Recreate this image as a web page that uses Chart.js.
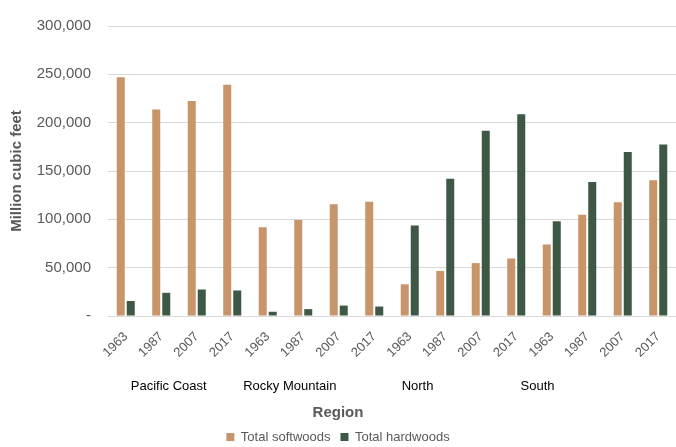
<!DOCTYPE html>
<html lang="en">
<head>
  <meta charset="UTF-8" />
  <title>Growing stock volume by region</title>
  <style>
    body { margin: 0; padding: 0; background: #fff; }
    .chart-container { width: 676px; height: 447px; }
  </style>
</head>
<body>
  <div class="chart-container">
    <canvas id="volumeChart"></canvas>
  </div>

  <script src="https://cdn.jsdelivr.net/npm/chart.js"></script>
  <script>
    // --- Data ---
    const years = ['1963', '1987', '2007', '2017'];
    const regions = ['Pacific Coast', 'Rocky Mountain', 'North', 'South'];
    const softwoods = [
      247000, 213500, 222300, 239200,   // Pacific Coast
      91900, 99300, 115500, 118200,     // Rocky Mountain
      32800, 46600, 54700, 59500,       // North
      74000, 104700, 117600, 140500     // South
    ];
    const hardwoods = [
      15500, 24000, 27400, 26400,
      4400, 7100, 10800, 9800,
      93600, 141900, 191600, 208800,
      98000, 138500, 169600, 177400
    ];

    // one year label per bar group, repeated for every region
    const yearLabels = regions.flatMap(() => years);

    // where the region names sit along the category axis (in category units)
    const regionLabelAt = [1.21, 4.62, 8.22, 11.6];

    const grey = '#595959';
    const gridColor = '#d9d9d9';
    const fontFamily = 'Arial, "Liberation Sans", sans-serif';

    // keep rotated / wide labels from squeezing the plot horizontally
    function noSidePadding(scale) {
      scale.paddingLeft = 0;
      scale.paddingRight = 0;
    }

    const ctx = document.getElementById('volumeChart').getContext('2d');
    const volumeChart = new Chart(ctx, {
      type: 'bar',
      data: {
        labels: yearLabels,
        datasets: [
          {
            label: 'Total softwoods',
            data: softwoods,
            backgroundColor: '#c8946a',
            borderWidth: 0,
            categoryPercentage: 0.564,
            barPercentage: 0.8
          },
          {
            label: 'Total hardwoods',
            data: hardwoods,
            backgroundColor: '#3e5846',
            borderWidth: 0,
            categoryPercentage: 0.564,
            barPercentage: 0.8
          }
        ]
      },
      options: {
        responsive: true,
        maintainAspectRatio: false,
        animation: false,
        layout: { padding: { top: 6, right: 0, left: 0, bottom: -6.5 } },
        scales: {
          x: {
            type: 'category',
            position: 'bottom',
            grid: { display: false, drawTicks: false },
            border: { display: true, color: gridColor, width: 1 },
            ticks: {
              color: grey,
              font: { family: fontFamily, size: 13 },
              minRotation: 45,
              maxRotation: 45,
              padding: 13,
              autoSkip: false
            },
            afterFit: (scale) => { scale.height = 62; noSidePadding(scale); }
          },
          x2: {
            type: 'linear',
            position: 'bottom',
            bounds: 'data',
            offset: false,
            min: -0.5,
            max: 15.5,
            grid: { display: false, drawTicks: false },
            border: { display: false },
            afterBuildTicks: (scale) => {
              scale.ticks = regionLabelAt.map(v => ({ value: v }));
            },
            ticks: {
              color: '#000',
              font: { family: fontFamily, size: 13 },
              padding: 1,
              autoSkip: false,
              maxRotation: 0,
              callback: (value, index) => regions[index]
            },
            afterFit: (scale) => { scale.height = 22; noSidePadding(scale); }
          },
          y: {
            min: 0,
            max: 300000,
            grid: { color: gridColor, lineWidth: 1, drawTicks: false },
            border: { display: false },
            ticks: {
              stepSize: 50000,
              color: grey,
              padding: 17,
              font: { family: fontFamily, size: 15 },
              callback: (v) => v === 0 ? '-' : v.toLocaleString('en-US')
            },
            title: {
              display: true,
              text: 'Million cubic feet',
              color: grey,
              padding: { top: 8, bottom: 0 },
              font: { family: fontFamily, size: 15, weight: 'bold' }
            },
            afterFit: (scale) => { scale.width = 108; }
          }
        },
        plugins: {
          title: {
            display: true,
            text: 'Region',
            position: 'bottom',
            weight: 500,
            color: grey,
            padding: { top: 5.5, bottom: 0 },
            font: { family: fontFamily, size: 15, weight: 'bold', lineHeight: 1 }
          },
          legend: {
            position: 'bottom',
            labels: {
              color: grey,
              boxWidth: 8,
              boxHeight: 8,
              padding: 10,
              font: { family: fontFamily, size: 13 }
            }
          },
          tooltip: { enabled: false }
        }
      }
    });
  </script>
</body>
</html>
